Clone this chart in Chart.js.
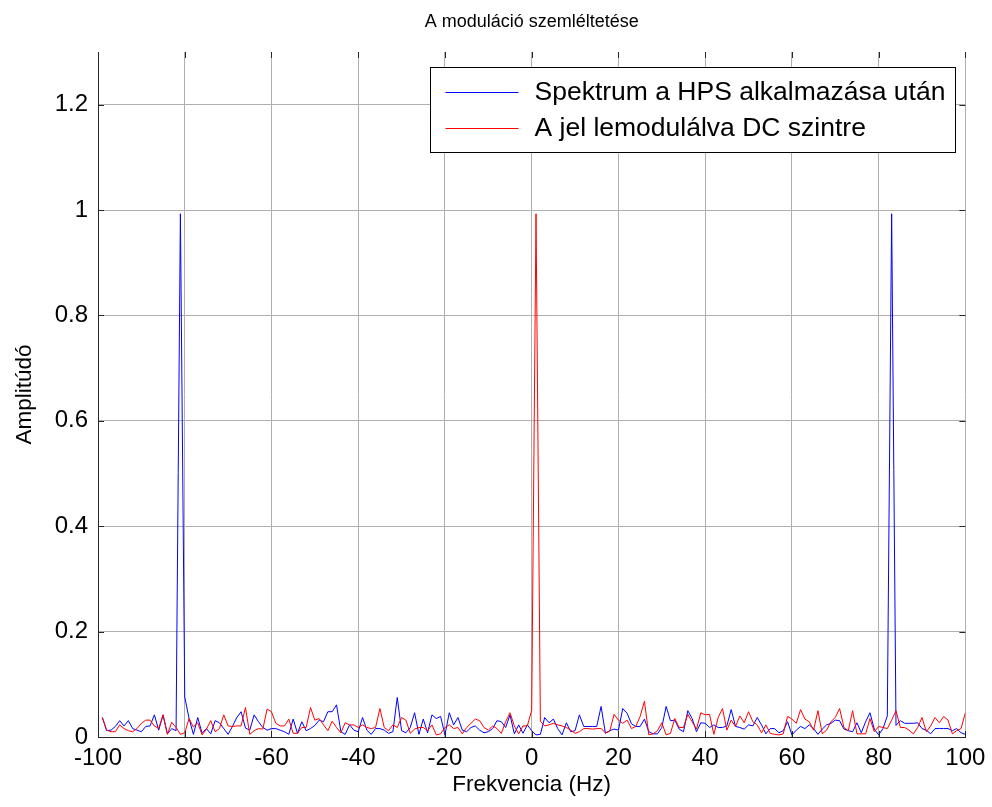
<!DOCTYPE html>
<html>
<head>
<meta charset="utf-8">
<script src="https://cdn.jsdelivr.net/npm/chart.js@4.4.0/dist/chart.umd.min.js"></script>
<style>
body { margin: 0; background: #fff; }
canvas { display: block; }
</style>
</head>
<body>
<canvas id="spectrumChart" width="992" height="807"></canvas>
<script>
// frequency bins (Hz)
var freq = [
  -99,-98,-97,-96,-95,-94,-93,-92,-91,-90,-89,-88,-87,-86,-85,-84,-83,-82,-81,-80,
  -79,-78,-77,-76,-75,-74,-73,-72,-71,-70,-69,-68,-67,-66,-65,-64,-63,-62,-61,-60,
  -59,-58,-57,-56,-55,-54,-53,-52,-51,-50,-49,-48,-47,-46,-45,-44,-43,-42,-41,-40,
  -39,-38,-37,-36,-35,-34,-33,-32,-31,-30,-29,-28,-27,-26,-25,-24,-23,-22,-21,-20,
  -19,-18,-17,-16,-15,-14,-13,-12,-11,-10,-9,-8,-7,-6,-5,-4,-3,-2,-1,0,
  1,2,3,4,5,6,7,8,9,10,11,12,13,14,15,16,17,18,19,20,
  21,22,23,24,25,26,27,28,29,30,31,32,33,34,35,36,37,38,39,40,
  41,42,43,44,45,46,47,48,49,50,51,52,53,54,55,56,57,58,59,60,
  61,62,63,64,65,66,67,68,69,70,71,72,73,74,75,76,77,78,79,80,
  81,82,83,84,85,86,87,88,89,90,91,92,93,94,95,96,97,98,99,100
];

// Spektrum a HPS alkalmazása után (blue)
var hpsSpectrum = [
  0.037,0.012,0.013,0.020,0.031,0.021,0.031,0.016,0.013,0.010,0.020,0.021,0.042,0.013,0.042,0.006,0.016,0.012,0.993,0.076,
  0.035,0.005,0.037,0.007,0.016,0.006,0.031,0.027,0.016,0.005,0.020,0.037,0.048,0.017,0.013,0.042,0.029,0.018,0.013,0.016,
  0.016,0.013,0.010,0.005,0.034,0.007,0.029,0.012,0.016,0.022,0.032,0.029,0.048,0.048,0.061,0.010,0.005,0.023,0.013,0.010,
  0.037,0.013,0.005,0.016,0.016,0.013,0.007,0.010,0.075,0.012,0.008,0.018,0.046,0.005,0.034,0.008,0.042,0.035,0.039,0.004,
  0.046,0.023,0.037,0.013,0.010,0.018,0.021,0.013,0.008,0.010,0.016,0.031,0.029,0.018,0.042,0.006,0.023,0.007,0.023,0.012,
  0.004,0.005,0.037,0.027,0.034,0.016,0.004,0.027,0.010,0.012,0.042,0.020,0.020,0.020,0.020,0.058,0.007,0.012,0.015,0.013,
  0.054,0.045,0.025,0.020,0.020,0.034,0.010,0.006,0.006,0.018,0.058,0.031,0.032,0.015,0.010,0.050,0.035,0.010,0.027,0.026,
  0.018,0.023,0.018,0.018,0.021,0.052,0.020,0.018,0.015,0.023,0.021,0.037,0.023,0.006,0.016,0.016,0.008,0.012,0.029,0.004,
  0.013,0.020,0.016,0.023,0.016,0.005,0.015,0.023,0.026,0.032,0.031,0.015,0.012,0.010,0.027,0.008,0.029,0.046,0.015,0.004,
  0.016,0.040,0.993,0.022,0.031,0.026,0.026,0.026,0.027,0.016,0.013,0.006,0.016,0.016,0.016,0.016,0.012,0.016,0.008,0.005
];

// A jel lemodulálva DC szintre (red)
var dcSignal = [
  0.037,0.013,0.010,0.010,0.023,0.016,0.012,0.010,0.016,0.026,0.032,0.032,0.021,0.016,0.042,0.005,0.028,0.018,0.005,0.008,
  0.035,0.019,0.027,0.004,0.015,0.031,0.010,0.016,0.042,0.021,0.020,0.021,0.021,0.056,0.005,0.012,0.016,0.015,0.053,0.048,
  0.026,0.021,0.021,0.034,0.007,0.007,0.018,0.018,0.056,0.032,0.035,0.023,0.012,0.030,0.018,0.008,0.027,0.023,0.023,0.018,
  0.023,0.018,0.016,0.018,0.054,0.018,0.012,0.023,0.018,0.037,0.032,0.007,0.015,0.018,0.018,0.012,0.023,0.004,0.006,0.018,
  0.023,0.016,0.018,0.006,0.018,0.026,0.034,0.031,0.018,0.013,0.021,0.016,0.007,0.029,0.046,0.021,0.006,0.021,0.021,0.051,
  0.993,0.030,0.021,0.023,0.026,0.023,0.021,0.018,0.013,0.007,0.010,0.016,0.016,0.015,0.016,0.016,0.008,0.011,0.043,0.032,
  0.026,0.032,0.016,0.020,0.039,0.068,0.004,0.006,0.012,0.027,0.004,0.007,0.035,0.018,0.018,0.043,0.029,0.015,0.046,0.042,
  0.043,0.005,0.037,0.054,0.013,0.032,0.020,0.040,0.027,0.048,0.029,0.023,0.008,0.023,0.007,0.005,0.004,0.006,0.039,0.034,
  0.026,0.052,0.034,0.029,0.013,0.050,0.006,0.013,0.029,0.037,0.054,0.018,0.012,0.050,0.006,0.006,0.006,0.035,0.010,0.020,
  0.018,0.016,0.032,0.050,0.018,0.018,0.013,0.006,0.018,0.037,0.010,0.021,0.037,0.027,0.039,0.032,0.006,0.012,0.016,0.046
];

var seriesLabels = ["Spektrum a HPS alkalmazása után", "A jel lemodulálva DC szintre"];
var xTicks = [-100, -80, -60, -40, -20, 0, 20, 40, 60, 80, 100];
var yTicks = [0, 0.2, 0.4, 0.6, 0.8, 1, 1.2];

var FONT = '"Liberation Sans", Arial, Helvetica, sans-serif';
Chart.defaults.font.family = FONT;
Chart.defaults.color = '#000';

function points(vals) {
  return freq.map(function (f, i) { return { x: f, y: vals[i] }; });
}

// inward tick marks on all four sides + boxed legend inside the plot (MATLAB look)
var matlabFrame = {
  id: 'matlabFrame',
  afterDatasetsDraw: function (chart) {
    var ctx = chart.ctx, a = chart.chartArea;
    var xs = chart.scales.x, ys = chart.scales.y;
    var tl = 6;
    ctx.save();
    ctx.strokeStyle = '#262626';
    ctx.lineWidth = 1;
    ctx.beginPath();
    xTicks.forEach(function (v) {
      var px = Math.round(xs.getPixelForValue(v)) + 0.5;
      ctx.moveTo(px, a.top); ctx.lineTo(px, a.top + tl);
      ctx.moveTo(px, a.bottom); ctx.lineTo(px, a.bottom - tl);
    });
    yTicks.forEach(function (v) {
      var py = Math.round(ys.getPixelForValue(v)) + 0.5;
      ctx.moveTo(a.left, py); ctx.lineTo(a.left + tl, py);
      ctx.moveTo(a.right, py); ctx.lineTo(a.right - tl, py);
    });
    ctx.stroke();

    // legend box
    var bx = 430.5, by = 67.5, bw = 525, bh = 85;
    ctx.fillStyle = '#fff';
    ctx.fillRect(bx, by, bw, bh);
    ctx.strokeStyle = '#000';
    ctx.strokeRect(bx, by, bw, bh);
    ctx.font = '26.5px ' + FONT;
    ctx.textBaseline = 'middle';
    ctx.textAlign = 'left';
    chart.data.datasets.forEach(function (ds, i) {
      var ly = by + 24 + i * 36;
      ctx.strokeStyle = ds.borderColor;
      ctx.beginPath();
      ctx.moveTo(bx + 15, Math.round(ly) + 0.5);
      ctx.lineTo(bx + 88, Math.round(ly) + 0.5);
      ctx.stroke();
      ctx.fillStyle = '#000';
      ctx.fillText(ds.label, bx + 104, ly + 1);
    });
    ctx.restore();
  }
};

new Chart(document.getElementById('spectrumChart'), {
  type: 'line',
  data: {
    datasets: [
      {
        label: seriesLabels[0],
        data: points(hpsSpectrum),
        borderColor: '#0000ff',
        borderWidth: 1,
        pointRadius: 0,
        tension: 0,
        fill: false,
        order: 1
      },
      {
        label: seriesLabels[1],
        data: points(dcSignal),
        borderColor: '#ff0000',
        borderWidth: 1,
        pointRadius: 0,
        tension: 0,
        fill: false,
        order: 0
      }
    ]
  },
  options: {
    responsive: false,
    animation: false,
    layout: { padding: { left: 0, right: 26, top: 0, bottom: 0 } },
    plugins: {
      legend: { display: false },
      tooltip: { enabled: false },
      title: {
        display: true,
        text: 'A moduláció szemléltetése',
        fullSize: false,
        font: { size: 18, weight: 'normal' },
        padding: { top: 11, bottom: 19.4 },
        color: '#000'
      }
    },
    scales: {
      x: {
        type: 'linear',
        min: -100,
        max: 100,
        afterBuildTicks: function (scale) {
          scale.ticks = xTicks.map(function (v) { return { value: v }; });
        },
        afterFit: function (scale) { scale.height = 70; },
        ticks: {
          font: { size: 24 },
          padding: 6.6,
          maxRotation: 0,
          callback: function (v) { return String(v); }
        },
        grid: { color: '#b0b0b0', borderDash: [2, 1], drawTicks: false },
        border: { display: true, color: '#262626', width: 1 },
        title: {
          display: true,
          text: 'Frekvencia (Hz)',
          font: { size: 22.5 },
          padding: { top: 0, bottom: 8.5 }
        }
      },
      y: {
        type: 'linear',
        min: 0,
        max: 1.3,
        afterBuildTicks: function (scale) {
          scale.ticks = yTicks.map(function (v) { return { value: v }; });
        },
        afterFit: function (scale) { scale.width = 98; },
        ticks: {
          font: { size: 24 },
          padding: 10,
          callback: function (v) { return String(parseFloat(Number(v).toFixed(2))); }
        },
        grid: { color: '#b0b0b0', borderDash: [2, 1], drawTicks: false },
        border: { display: true, color: '#262626', width: 1 },
        title: {
          display: true,
          text: 'Amplitúdó',
          font: { size: 22.5 },
          padding: { top: 11.5, bottom: 0 }
        }
      }
    }
  },
  plugins: [matlabFrame]
});
</script>
</body>
</html>
